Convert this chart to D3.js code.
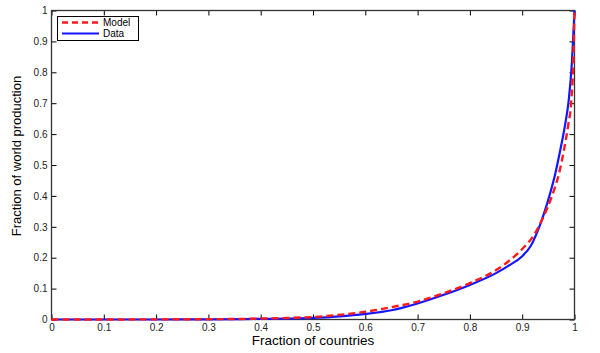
<!DOCTYPE html>
<html><head><meta charset="utf-8">
<script src="https://cdn.jsdelivr.net/npm/d3@7"></script>
<style>body{margin:0;background:#fff}svg{display:block}</style>
</head><body><svg id="c" width="600" height="353"></svg>
<script>
const xTicks = [0,0.1,0.2,0.3,0.4,0.5,0.6,0.7,0.8,0.9,1];
const yTicks = [0,0.1,0.2,0.3,0.4,0.5,0.6,0.7,0.8,0.9,1];
const xLabel = "Fraction of countries";
const yLabel = "Fraction of world production";
const seriesNames = ["Model","Data"];
const modelX = [0,0.1,0.2,0.3,0.4,0.45,0.5,0.55,0.6,0.65,0.7,0.75,0.8,0.85,0.875,0.9,0.925,0.94,0.957,0.97,0.98,0.988,0.994,0.998,1];
const modelY = [0,0,0.0005,0.001,0.003,0.005,0.008,0.015,0.025,0.04,0.058,0.085,0.118,0.16,0.19,0.228,0.28,0.33,0.40,0.47,0.55,0.63,0.71,0.85,1.0];
const dataX = [0,0.1,0.2,0.3,0.4,0.45,0.5,0.55,0.6,0.65,0.7,0.75,0.8,0.85,0.875,0.9,0.916,0.935,0.952,0.963,0.973,0.982,0.989,0.995,1];
const dataY = [0,0,0,0.0005,0.002,0.003,0.005,0.01,0.018,0.03,0.052,0.08,0.112,0.15,0.175,0.205,0.237,0.31,0.40,0.47,0.55,0.63,0.71,0.83,1.0];

const svg = d3.select("#c");
const L=51.5, R=574.5, T=10.5, B=319.5;
const x = d3.scaleLinear().domain([0,1]).range([L,R]);
const y = d3.scaleLinear().domain([0,1]).range([B,T]);
const font = "Liberation Sans, Arial, sans-serif";

const tl = 5;
const g = svg.append("g");
g.append("g").attr("transform",`translate(0,${B})`)
 .call(d3.axisBottom(x).tickValues(xTicks).tickSize(-tl).tickPadding(4).tickFormat(d3.format("")))
 .call(a=>a.select(".domain").remove());
g.append("g").attr("transform",`translate(0,${T})`)
 .call(d3.axisTop(x).tickValues(xTicks).tickSize(-tl).tickFormat(""))
 .call(a=>a.select(".domain").remove());
g.append("g").attr("transform",`translate(${L},0)`)
 .call(d3.axisLeft(y).tickValues(yTicks).tickSize(-tl).tickPadding(4).tickFormat(d3.format("")))
 .call(a=>a.select(".domain").remove());
g.append("g").attr("transform",`translate(${R},0)`)
 .call(d3.axisRight(y).tickValues(yTicks).tickSize(-tl).tickFormat(""))
 .call(a=>a.select(".domain").remove());
g.selectAll(".tick line").attr("stroke","#000");
g.selectAll(".tick text").attr("font-family",font).attr("font-size",10).attr("fill","#222");

svg.append("rect").attr("x",L).attr("y",T).attr("width",R-L).attr("height",B-T)
 .attr("fill","none").attr("stroke","#333").attr("stroke-width",1.3);

const line = d3.line().x(d=>x(d[0])).y(d=>y(d[1])).curve(d3.curveMonotoneX);
const dataPts = dataX.map((v,i)=>[v,dataY[i]]);
const modelPts = modelX.map((v,i)=>[v,modelY[i]]);
svg.append("path").datum(dataPts).attr("d",line).attr("fill","none")
 .attr("stroke","#1515ff").attr("stroke-width",2.2);
svg.append("path").datum(modelPts).attr("d",line).attr("fill","none")
 .attr("stroke","#ff1a1a").attr("stroke-width",2.4).attr("stroke-dasharray","7,4");

const lg = svg.append("g");
lg.append("rect").attr("x",57.5).attr("y",16.5).attr("width",81).attr("height",24)
 .attr("fill","#fff").attr("stroke","#000").attr("stroke-width",1);
const styles = [{c:"#ff1a1a",w:2.4,d:"6,4"},{c:"#1515ff",w:2,d:null}];
seriesNames.forEach((n,i)=>{
  const yy = 22.5 + i*11;
  lg.append("line").attr("x1",62).attr("x2",99).attr("y1",yy).attr("y2",yy)
    .attr("stroke",styles[i].c).attr("stroke-width",styles[i].w)
    .attr("stroke-dasharray",styles[i].d);
  lg.append("text").attr("x",103).attr("y",yy+3.5).text(n)
    .attr("font-family",font).attr("font-size",10).attr("fill","#000");
});

svg.append("text").attr("x",313).attr("y",344.5).attr("text-anchor","middle")
 .attr("font-family",font).attr("font-size",13.5).attr("fill","#000").text(xLabel);
svg.append("text").attr("transform","translate(21,156) rotate(-90)").attr("text-anchor","middle")
 .attr("font-family","Liberation Sans Narrow, Liberation Sans, Arial, sans-serif")
 .attr("font-size",13).attr("fill","#000").text(yLabel);
</script></body></html>
